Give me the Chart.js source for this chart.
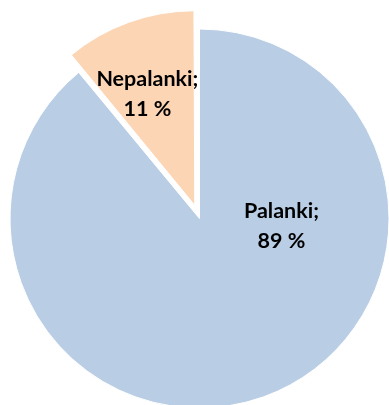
<!DOCTYPE html>
<html>
<head>
<meta charset="utf-8">
<script src="https://cdn.jsdelivr.net/npm/chart.js@4"></script>
<style>
html,body{margin:0;padding:0;background:#fff;}
#wrap{width:389px;height:405px;position:relative;}
</style>
</head>
<body>
<div id="wrap"><canvas id="c" width="389" height="405"></canvas></div>
<script>
const categories = ["Palanki", "Nepalanki"];
const values = [89, 11];
const colors = ["#b9cde5", "#fcd5b5"];
// Chart.js arc offset (slice is moved by offset/4 px)
const explode = [0, 56];

// label placement: angle (deg, clockwise from top, from the slice's own centre) and radius fraction
const labelPlace = [
  {angle: 95, frac: 0.434},
  {angle: -23, frac: 0.64}
];

const labelPlugin = {
  id: 'sliceLabels',
  afterDatasetsDraw(chart) {
    const ctx = chart.ctx;
    const meta = chart.getDatasetMeta(0);
    const total = values.reduce((s, v) => s + v, 0);
    ctx.save();
    ctx.fillStyle = '#000';
    ctx.font = 'bold 21.5px Lato';
    ctx.textAlign = 'center';
    ctx.textBaseline = 'middle';
    meta.data.forEach((arc, i) => {
      const p = arc.getProps(['x', 'y', 'startAngle', 'endAngle', 'outerRadius'], true);
      const mid = (p.startAngle + p.endAngle) / 2;
      const off = (arc.options.offset || 0) / 4;
      const cx = p.x + Math.cos(mid) * off;
      const cy = p.y + Math.sin(mid) * off;
      const a = (labelPlace[i].angle - 90) * Math.PI / 180;
      const r = p.outerRadius * labelPlace[i].frac;
      const x = cx + Math.cos(a) * r;
      const y = cy + Math.sin(a) * r;
      const pct = Math.round(values[i] / total * 100);
      ctx.fillText(categories[i] + ';', x, y - 15);
      ctx.fillText(pct + ' %', x, y + 15);
    });
    ctx.restore();
  }
};

new Chart(document.getElementById('c'), {
  type: 'pie',
  data: {
    labels: categories,
    datasets: [{
      data: values,
      backgroundColor: colors,
      borderColor: '#ffffff',
      borderWidth: 1,
      offset: explode,
      clip: false
    }]
  },
  options: {
    responsive: false,
    animation: false,
    radius: 189.5,
    layout: {padding: {left: 10, right: 0, top: 32, bottom: 0}},
    plugins: {legend: {display: false}, tooltip: {enabled: false}}
  },
  plugins: [labelPlugin]
});
</script>
</body>
</html>
